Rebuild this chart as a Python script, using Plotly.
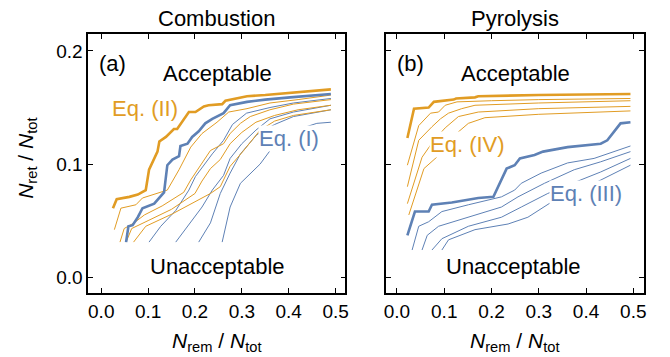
import plotly.graph_objects as go

BLUE = "#5E81B5"
ORANGE = "#E19C24"

# ---------------- Combustion (panel a) ----------------
comb_eq2_x = [0.025, 0.033, 0.06, 0.078, 0.095, 0.102, 0.12, 0.124, 0.138, 0.155, 0.162, 0.187, 0.201, 0.219, 0.229, 0.258, 0.265, 0.311, 0.35, 0.403, 0.49]
comb_eq2_y = [0.061, 0.069, 0.071, 0.073, 0.077, 0.095, 0.111, 0.120, 0.124, 0.131, 0.131, 0.146, 0.146, 0.151, 0.152, 0.153, 0.156, 0.160, 0.161, 0.163, 0.166]

comb_eq1_x = [0.053, 0.058, 0.067, 0.078, 0.088, 0.113, 0.134, 0.141, 0.152, 0.166, 0.169, 0.184, 0.194, 0.208, 0.222, 0.237, 0.261, 0.275, 0.311, 0.35, 0.403, 0.49]
comb_eq1_y = [0.031, 0.045, 0.046, 0.053, 0.061, 0.065, 0.075, 0.099, 0.104, 0.107, 0.116, 0.118, 0.124, 0.129, 0.136, 0.140, 0.145, 0.152, 0.155, 0.157, 0.159, 0.162]

comb_o1_x = [0.028, 0.042, 0.074, 0.088, 0.141, 0.166, 0.191, 0.215, 0.247, 0.272, 0.311, 0.36, 0.42, 0.49]
comb_o1_y = [0.042, 0.061, 0.064, 0.070, 0.077, 0.095, 0.115, 0.127, 0.137, 0.146, 0.149, 0.154, 0.157, 0.161]
comb_o2_x = [0.040, 0.049, 0.07, 0.092, 0.13, 0.176, 0.191, 0.212, 0.233, 0.261, 0.275, 0.297, 0.318, 0.36, 0.41, 0.49]
comb_o2_y = [0.031, 0.043, 0.048, 0.055, 0.063, 0.075, 0.086, 0.099, 0.112, 0.118, 0.127, 0.136, 0.142, 0.148, 0.153, 0.157]
comb_o3_x = [0.053, 0.065, 0.10, 0.15, 0.20, 0.215, 0.233, 0.254, 0.275, 0.30, 0.33, 0.37, 0.42, 0.49]
comb_o3_y = [0.031, 0.043, 0.050, 0.060, 0.074, 0.085, 0.096, 0.104, 0.118, 0.128, 0.137, 0.143, 0.148, 0.152]
comb_o4_x = [0.069, 0.095, 0.152, 0.194, 0.233, 0.254, 0.275, 0.304, 0.339, 0.37, 0.41, 0.49]
comb_o4_y = [0.031, 0.045, 0.056, 0.065, 0.074, 0.080, 0.098, 0.112, 0.130, 0.138, 0.143, 0.148]

comb_b1_x = [0.102, 0.127, 0.159, 0.187, 0.201, 0.222, 0.237, 0.261, 0.28, 0.31, 0.36, 0.41, 0.49]
comb_b1_y = [0.031, 0.045, 0.059, 0.077, 0.089, 0.101, 0.109, 0.121, 0.135, 0.145, 0.150, 0.154, 0.158]
comb_b2_x = [0.159, 0.187, 0.215, 0.237, 0.261, 0.275, 0.30, 0.33, 0.36, 0.41, 0.49]
comb_b2_y = [0.031, 0.047, 0.062, 0.077, 0.090, 0.105, 0.118, 0.130, 0.140, 0.146, 0.152]
comb_b3_x = [0.208, 0.233, 0.254, 0.275, 0.297, 0.332, 0.37, 0.41, 0.49]
comb_b3_y = [0.031, 0.048, 0.074, 0.092, 0.109, 0.126, 0.135, 0.142, 0.148]
comb_b4_x = [0.258, 0.275, 0.297, 0.339, 0.364, 0.40, 0.43, 0.46, 0.49]
comb_b4_y = [0.031, 0.062, 0.083, 0.100, 0.114, 0.125, 0.132, 0.136, 0.137]

# ---------------- Pyrolysis (panel b) ----------------
pyro_eq4_x = [0.022, 0.036, 0.067, 0.078, 0.120, 0.125, 0.165, 0.172, 0.30, 0.494]
pyro_eq4_y = [0.123, 0.149, 0.150, 0.155, 0.157, 0.158, 0.159, 0.160, 0.161, 0.162]

pyro_o1_x = [0.022, 0.046, 0.071, 0.088, 0.102, 0.127, 0.20, 0.30, 0.494]
pyro_o1_y = [0.099, 0.134, 0.145, 0.146, 0.152, 0.155, 0.156, 0.157, 0.158]
pyro_o2_x = [0.022, 0.046, 0.074, 0.092, 0.109, 0.137, 0.165, 0.30, 0.494]
pyro_o2_y = [0.080, 0.121, 0.133, 0.140, 0.145, 0.149, 0.152, 0.154, 0.156]
pyro_o3_x = [0.022, 0.053, 0.078, 0.102, 0.130, 0.172, 0.30, 0.494]
pyro_o3_y = [0.065, 0.106, 0.121, 0.132, 0.142, 0.146, 0.149, 0.151]
pyro_o4_x = [0.025, 0.057, 0.092, 0.109, 0.151, 0.186, 0.30, 0.494]
pyro_o4_y = [0.055, 0.096, 0.109, 0.121, 0.136, 0.141, 0.144, 0.147]

pyro_eq3_x = [0.022, 0.038, 0.067, 0.074, 0.116, 0.172, 0.204, 0.218, 0.232, 0.249, 0.260, 0.291, 0.309, 0.361, 0.431, 0.445, 0.473, 0.494]
pyro_eq3_y = [0.037, 0.058, 0.058, 0.064, 0.066, 0.070, 0.071, 0.084, 0.096, 0.099, 0.105, 0.108, 0.111, 0.115, 0.118, 0.121, 0.136, 0.137]

pyro_b1_x = [0.032, 0.046, 0.067, 0.095, 0.151, 0.221, 0.249, 0.263, 0.305, 0.361, 0.417, 0.494]
pyro_b1_y = [0.024, 0.045, 0.049, 0.058, 0.064, 0.071, 0.077, 0.083, 0.092, 0.101, 0.105, 0.116]
pyro_b2_x = [0.053, 0.064, 0.088, 0.151, 0.221, 0.256, 0.312, 0.375, 0.431, 0.494]
pyro_b2_y = [0.024, 0.037, 0.045, 0.053, 0.062, 0.071, 0.083, 0.095, 0.102, 0.111]
pyro_b3_x = [0.074, 0.095, 0.151, 0.221, 0.263, 0.319, 0.389, 0.431, 0.494]
pyro_b3_y = [0.024, 0.034, 0.045, 0.053, 0.062, 0.074, 0.086, 0.093, 0.105]
pyro_b4_x = [0.095, 0.109, 0.165, 0.235, 0.277, 0.333, 0.403, 0.494]
pyro_b4_y = [0.024, 0.033, 0.042, 0.047, 0.053, 0.068, 0.080, 0.099]

x_ticks = [0.0, 0.1, 0.2, 0.3, 0.4, 0.5]
y_ticks = [0.0, 0.1, 0.2]

fig = go.Figure()

def add(x, y, color, width, xa, ya):
    fig.add_trace(go.Scatter(x=x, y=y, mode="lines", line=dict(color=color, width=width),
                             xaxis=xa, yaxis=ya, showlegend=False, hoverinfo="skip"))

# panel a: thin first then thick
for xs, ys in [(comb_b1_x, comb_b1_y), (comb_b2_x, comb_b2_y), (comb_b3_x, comb_b3_y), (comb_b4_x, comb_b4_y)]:
    add(xs, ys, BLUE, 1, "x", "y")
for xs, ys in [(comb_o1_x, comb_o1_y), (comb_o2_x, comb_o2_y), (comb_o3_x, comb_o3_y), (comb_o4_x, comb_o4_y)]:
    add(xs, ys, ORANGE, 1, "x", "y")
add(comb_eq1_x, comb_eq1_y, BLUE, 2.6, "x", "y")
add(comb_eq2_x, comb_eq2_y, ORANGE, 2.6, "x", "y")

# panel b
for xs, ys in [(pyro_b1_x, pyro_b1_y), (pyro_b2_x, pyro_b2_y), (pyro_b3_x, pyro_b3_y), (pyro_b4_x, pyro_b4_y)]:
    add(xs, ys, BLUE, 1, "x2", "y2")
for xs, ys in [(pyro_o1_x, pyro_o1_y), (pyro_o2_x, pyro_o2_y), (pyro_o3_x, pyro_o3_y), (pyro_o4_x, pyro_o4_y)]:
    add(xs, ys, ORANGE, 1, "x2", "y2")
add(pyro_eq3_x, pyro_eq3_y, BLUE, 2.6, "x2", "y2")
add(pyro_eq4_x, pyro_eq4_y, ORANGE, 2.6, "x2", "y2")

W, H = 670, 357
FONT = "Liberation Sans, Arial, sans-serif"
ydom = [1 - 293 / H, 1 - 34 / H]

axis_common = dict(showline=True, linecolor="black", linewidth=1.8, mirror="allticks",
                   ticks="inside", ticklen=5, tickwidth=1.2, tickcolor="black",
                   showgrid=False, zeroline=False, tickfont=dict(family=FONT, size=19, color="black"))

fig.update_layout(
    width=W, height=H, margin=dict(l=0, r=0, t=0, b=0),
    paper_bgcolor="white", plot_bgcolor="white",
    xaxis=dict(domain=[87 / W, 346 / W], range=[-0.0275, 0.521], tickvals=x_ticks, tickformat=".1f", anchor="y", **axis_common),
    yaxis=dict(domain=ydom, range=[-0.014, 0.215], tickvals=y_ticks, tickformat=".1f", anchor="x", **axis_common),
    xaxis2=dict(domain=[387 / W, 647 / W], range=[-0.023, 0.523], tickvals=x_ticks, tickformat=".1f", anchor="y2", **axis_common),
    yaxis2=dict(domain=ydom, range=[-0.014, 0.215], tickvals=y_ticks, tickformat=".1f", anchor="x2", showticklabels=False, **axis_common),
)

ann = []
def txt(text, x, y, color="black", size=22, xref="x", yref="y", bg=None, **kw):
    d = dict(text=text, x=x, y=y, xref=xref, yref=yref, showarrow=False,
             xanchor="center", yanchor="middle",
             font=dict(family=FONT, size=size, color=color))
    if bg:
        d.update(bgcolor=bg, borderpad=0)
    d.update(kw)
    ann.append(d)

# titles
txt("Combustion", 216.5 / W, 1 - 18 / H, xref="paper", yref="paper")
txt("Pyrolysis", 517 / W, 1 - 18 / H, xref="paper", yref="paper")
# axis titles
txt("<i>N</i><sub>ret</sub> / <i>N</i><sub>tot</sub>", 25 / W, 1 - 158 / H, xref="paper", yref="paper", textangle=-90, size=21)
txt("<i>N</i><sub>rem</sub> / <i>N</i><sub>tot</sub>", 216.5 / W, 1 - 342 / H, xref="paper", yref="paper", size=21)
txt("<i>N</i><sub>rem</sub> / <i>N</i><sub>tot</sub>", 517 / W, 1 - 342 / H, xref="paper", yref="paper", size=21)

# panel a labels
txt("(a)", -0.01, 0.189, xanchor="left")
txt("Acceptable", 0.247, 0.180)
txt("Unacceptable", 0.247, 0.009)
txt("Eq. (II)", 0.093, 0.149, color=ORANGE, bg="white")
txt("Eq. (I)", 0.40, 0.123, color=BLUE, bg="white")
# panel b labels
txt("(b)", -0.005, 0.189, xref="x2", yref="y2", xanchor="left")
txt("Acceptable", 0.251, 0.180, xref="x2", yref="y2")
txt("Unacceptable", 0.247, 0.009, xref="x2", yref="y2")
txt("Eq. (IV)", 0.150, 0.117, color=ORANGE, xref="x2", yref="y2", bg="white")
txt("Eq. (III)", 0.400, 0.074, color=BLUE, xref="x2", yref="y2", bg="white")

fig.update_layout(annotations=ann)
fig.write_html("out.html")
